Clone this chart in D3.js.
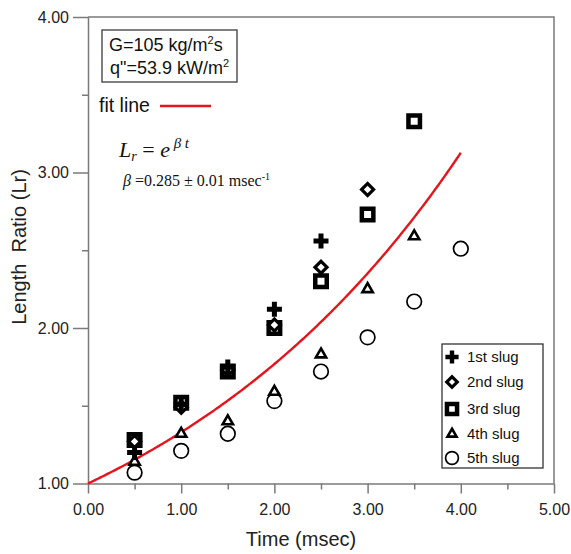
<!DOCTYPE html>
<html><head><meta charset="utf-8">
<script src="https://cdn.jsdelivr.net/npm/d3@7"></script>
<style>body{margin:0;background:#fff}svg{display:block}</style>
</head><body>
<svg id="c" width="571" height="554"></svg>
<script>
// ---- data ----
const times = [0.5, 1.0, 1.5, 2.0, 2.5, 3.0, 3.5, 4.0];
const slug1 = [1.20, 1.51, 1.75, 2.12, 2.56];            // 1st slug (cross)
const slug2 = [1.27, 1.49, 1.73, 2.02, 2.39, 2.89];      // 2nd slug (diamond)
const slug3 = [1.28, 1.52, 1.72, 2.00, 2.30, 2.73, 3.33];// 3rd slug (square)
const slug4 = [1.14, 1.32, 1.40, 1.59, 1.83, 2.25, 2.59];// 4th slug (triangle)
const slug5 = [1.07, 1.21, 1.32, 1.53, 1.72, 1.94, 2.17, 2.51]; // 5th slug (circle)
const beta = 0.285;
const fitEnd = 4.0;
const xTicks = [0, 0.5, 1, 1.5, 2, 2.5, 3, 3.5, 4, 4.5, 5];
const yTicks = [1, 1.5, 2, 2.5, 3, 3.5, 4];
const legendLabels = ["1st slug", "2nd slug", "3rd slug", "4th slug", "5th slug"];

const svg = d3.select("#c");
const L = 88, R = 554, T = 17, B = 483.5;
const x = d3.scaleLinear().domain([0, 5]).range([L, R]);
const y = d3.scaleLinear().domain([1, 4]).range([B, T]);
const AX = "#7a7a7a";
const sans = "'Liberation Sans', Arial, sans-serif";
const serif = "'Liberation Serif', 'Times New Roman', serif";
const isMajor = d => Math.abs(d - Math.round(d)) < 1e-9;

// frame (top & right)
svg.append("path").attr("d", `M${L},${T}H${R}V${B}`).attr("fill", "none")
  .attr("stroke", AX).attr("stroke-width", 1.5);

// x axis
const gx = svg.append("g").attr("transform", `translate(0,${B})`)
  .call(d3.axisBottom(x).tickValues(xTicks).tickSizeOuter(0)
    .tickFormat(d => isMajor(d) ? d3.format(".2f")(d) : ""));
gx.select(".domain").attr("stroke", AX).attr("stroke-width", 1.5);
gx.selectAll(".tick line").attr("stroke", AX).attr("stroke-width", 1.5)
  .attr("y2", d => isMajor(d) ? 10 : 6);
gx.selectAll(".tick text").attr("y", 20).attr("font-family", sans)
  .attr("font-size", 16).attr("fill", "#222");

// y axis
const gy = svg.append("g").attr("transform", `translate(${L},0)`)
  .call(d3.axisLeft(y).tickValues(yTicks).tickSizeOuter(0)
    .tickFormat(d => isMajor(d) ? d3.format(".2f")(d) : ""));
gy.select(".domain").attr("stroke", AX).attr("stroke-width", 1.5);
gy.selectAll(".tick line").attr("stroke", AX).attr("stroke-width", 1.5)
  .attr("x2", d => isMajor(d) ? -15 : -6);
gy.selectAll(".tick text").attr("x", -19).attr("font-family", sans)
  .attr("font-size", 16).attr("fill", "#222");

// axis titles
svg.append("text").attr("x", 301).attr("y", 546).attr("text-anchor", "middle")
  .attr("font-family", sans).attr("font-size", 20).attr("fill", "#222").text("Time (msec)");
svg.append("text").attr("transform", "translate(26,247) rotate(-90)").attr("text-anchor", "middle")
  .attr("font-family", sans).attr("font-size", 20).attr("fill", "#222")
  .text("Length\u00A0 Ratio (Lr)");

// fit line
const fitT = d3.range(0, fitEnd + 1e-9, 0.02);
svg.append("path").datum(fitT)
  .attr("d", d3.line().x(t => x(t)).y(t => y(Math.exp(beta * t))))
  .attr("fill", "none").attr("stroke", "#e8141b").attr("stroke-width", 2.4);

// marker drawers
function drawMarker(g, type, cx, cy, s) {
  if (type === 0) { // cross
    g.append("path").attr("d", d3.symbol(d3.symbolCross, 125 * s * s)())
      .attr("transform", `translate(${cx},${cy})`).attr("fill", "#000");
  } else if (type === 1) { // diamond
    g.append("path").attr("d", d3.symbol(d3.symbolSquare, 72 * s * s)())
      .attr("transform", `translate(${cx},${cy}) rotate(45)`)
      .attr("fill", "#fff").attr("stroke", "#000").attr("stroke-width", 3.2);
  } else if (type === 2) { // square
    g.append("path").attr("d", d3.symbol(d3.symbolSquare, 132 * s * s)())
      .attr("transform", `translate(${cx},${cy})`)
      .attr("fill", "#fff").attr("stroke", "#000").attr("stroke-width", 4.5);
  } else if (type === 3) { // triangle
    g.append("path").attr("d", d3.symbol(d3.symbolTriangle, 46 * s * s)())
      .attr("transform", `translate(${cx},${cy})`)
      .attr("fill", "#fff").attr("stroke", "#000").attr("stroke-width", 2.6);
  } else { // circle
    g.append("circle").attr("cx", cx).attr("cy", cy).attr("r", 7.3 * s)
      .attr("fill", "none").attr("stroke", "#000").attr("stroke-width", 1.7);
  }
}

const series = [slug1, slug2, slug3, slug4, slug5];
const gm = svg.append("g");
[4, 3, 2, 1, 0].forEach(k => {
  series[k].forEach((v, i) => drawMarker(gm, k, x(times[i]), y(v), 1));
});

// legend
const lg = svg.append("g");
lg.append("rect").attr("x", 442).attr("y", 344).attr("width", 101).attr("height", 124)
  .attr("fill", "#fff").attr("stroke", "#333").attr("stroke-width", 1.3);
const legY = [357, 382, 409, 434, 458];
legendLabels.forEach((lab, k) => {
  drawMarker(lg, k, 452, legY[k], 0.88);
  lg.append("text").attr("x", 467).attr("y", legY[k] + 5).attr("font-family", sans)
    .attr("font-size", 15).attr("fill", "#111").text(lab);
});

// parameter box
svg.append("rect").attr("x", 102).attr("y", 30).attr("width", 135).attr("height", 52)
  .attr("fill", "#fff").attr("stroke", "#555").attr("stroke-width", 1.5);
const t1 = svg.append("text").attr("x", 109).attr("y", 51).attr("font-family", sans)
  .attr("font-size", 18).attr("fill", "#111");
t1.append("tspan").text("G=105 kg/m");
t1.append("tspan").attr("font-size", 11).attr("dy", -7).text("2");
t1.append("tspan").attr("dy", 7).text("s");
const t2 = svg.append("text").attr("x", 110).attr("y", 74).attr("font-family", sans)
  .attr("font-size", 18).attr("fill", "#111");
t2.append("tspan").text("q\"=53.9 kW/m");
t2.append("tspan").attr("font-size", 11).attr("dy", -7).text("2");

// fit line label
svg.append("text").attr("x", 99).attr("y", 112).attr("font-family", sans)
  .attr("font-size", 19.5).attr("fill", "#111").text("fit line");
svg.append("line").attr("x1", 160).attr("x2", 211).attr("y1", 106).attr("y2", 106)
  .attr("stroke", "#e8141b").attr("stroke-width", 2.4);

// equation
const eq = svg.append("text").attr("x", 119).attr("y", 157).attr("font-family", serif)
  .attr("font-size", 22).attr("fill", "#111");
eq.append("tspan").attr("font-style", "italic").text("L");
eq.append("tspan").attr("font-style", "italic").attr("font-size", 14).attr("dy", 4).text("r");
eq.append("tspan").attr("dy", -4).text(" = ");
eq.append("tspan").attr("font-style", "italic").text("e");
eq.append("tspan").attr("font-style", "italic").attr("font-size", 15).attr("dy", -9).text(" \u03B2 t");

const eb = svg.append("text").attr("x", 123).attr("y", 186).attr("font-family", serif)
  .attr("font-size", 16).attr("fill", "#111");
eb.append("tspan").attr("font-style", "italic").text("\u03B2");
eb.append("tspan").text(" =0.285 \u00B1 0.01 msec");
eb.append("tspan").attr("font-size", 10).attr("dy", -6).text("-1");
</script>
</body></html>
